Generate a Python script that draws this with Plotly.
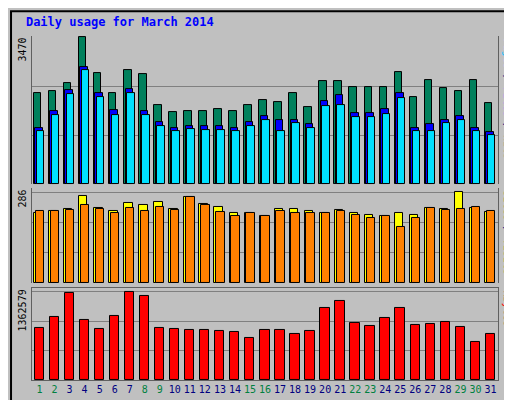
import plotly.graph_objects as go

days = list(range(1, 32))
weekend = [1, 2, 8, 9, 15, 16, 22, 23, 29, 30]
hits = [2139,2187,2377,3470,2615,2139,2686,2591,1854,1688,1711,1711,1759,1711,1854,1973,1925,2139,1806,2425,2425,2282,2282,2282,2638,2044,2448,2258,2187,2448,1902]
files = [1331,1711,2210,2757,2139,1735,2234,1711,1474,1331,1379,1379,1379,1331,1474,1616,1521,1521,1426,1949,2092,1664,1664,1759,2139,1331,1426,1521,1616,1331,1236]
pages = [1240,1620,2120,2680,2050,1640,2140,1620,1380,1240,1290,1280,1280,1240,1380,1520,1240,1430,1330,1850,1860,1570,1570,1660,2040,1240,1240,1430,1520,1240,1150]
visits = [222,228,232,275,235,228,252,245,255,232,270,248,240,222,222,210,232,232,228,222,230,222,214,212,220,215,235,232,286,235,225]
sites = [228,228,230,245,232,222,235,228,238,230,270,245,225,212,222,210,228,222,222,222,228,215,205,212,175,205,235,230,232,238,228]
kbytes = [801000,978000,1346000,930000,785000,994000,1362579,1298000,801000,785000,769000,769000,753000,737000,657000,769000,769000,705000,753000,1122000,1218000,882000,834000,962000,1122000,850000,866000,898000,818000,593000,705000]

fig = go.Figure()
def bar(y, color, off, w, ax):
    fig.add_trace(go.Bar(x=days, y=y, marker=dict(color=color, line=dict(color="black", width=1)),
                         width=w, offset=off, yaxis=ax, showlegend=False))
bar(hits, "#00805C", -0.38, 0.5, "y")
bar(files, "#0000FF", -0.28, 0.5, "y")
bar(pages, "#00E0FF", -0.18, 0.5, "y")
bar(visits, "#FFFF00", -0.36, 0.55, "y2")
bar(sites, "#FF8000", -0.24, 0.55, "y2")
bar(kbytes, "#FF0000", -0.32, 0.62, "y3")

ticktext = [f'<span style="color:{"#008040" if d in weekend else "#000080"}">{d}</span>' for d in days]
grid = dict(showgrid=True, gridcolor="#808080", gridwidth=1, showticklabels=False, ticks="",
            zeroline=False, showline=True, linecolor="#606060", mirror=True)
fig.update_layout(
    width=512, height=400, barmode="overlay", bargap=0,
    paper_bgcolor="#C0C0C0", plot_bgcolor="#C0C0C0",
    margin=dict(l=24, r=22, t=26, b=28),
    font=dict(family="DejaVu Sans Mono", size=11, color="#000080"),
    xaxis=dict(range=[0.5, 31.5], tickvals=days, ticktext=ticktext, tickangle=0, showgrid=False,
               showline=True, linecolor="#606060", mirror=True, ticks="", anchor="y3",
               tickfont=dict(size=10)),
    yaxis=dict(domain=[0.566, 0.994], range=[0, 3490], tickvals=[1157, 2313, 3470], **grid),
    yaxis2=dict(domain=[0.28, 0.555], range=[0, 299], tickvals=[95, 191, 286], **grid),
    yaxis3=dict(domain=[0, 0.266], range=[0, 1424000], tickvals=[454193, 908386, 1362579], **grid),
    title=dict(text="<b>Daily usage for March 2014</b>", x=0.035, y=0.975, xanchor="left",
               font=dict(family="DejaVu Sans Mono", size=12, color="#0000FF")),
)
ann = []
for txt, yp in [("3470", 0.994), ("286", 0.555), ("1362579", 0.266)]:
    ann.append(dict(text=txt, x=0, y=yp, xref="paper", yref="paper", textangle=-90, xshift=-2,
                    xanchor="right", yanchor="top", showarrow=False, font=dict(size=10, color="black")))
right = [('<span style="color:#00C0FF">Pages</span> / <span style="color:#0000FF">Files</span> / <span style="color:#00805C">Hits</span>', 0.994),
         ('<span style="color:#FF8000">Sites</span> / <span style="color:#C0A000">Visits</span>', 0.555),
         ('<span style="color:#FF0000">KBytes</span>', 0.266)]
for txt, yp in right:
    ann.append(dict(text=txt, x=1, y=yp, xref="paper", yref="paper", textangle=90, xshift=2,
                    xanchor="left", yanchor="top", showarrow=False, font=dict(size=10)))
fig.update_layout(annotations=ann,
    shapes=[dict(type="rect", xref="paper", yref="paper", x0=-0.045, x1=1.04, y0=-0.072, y1=1.066,
                 line=dict(color="black", width=2))])
fig.write_html("out.html")
